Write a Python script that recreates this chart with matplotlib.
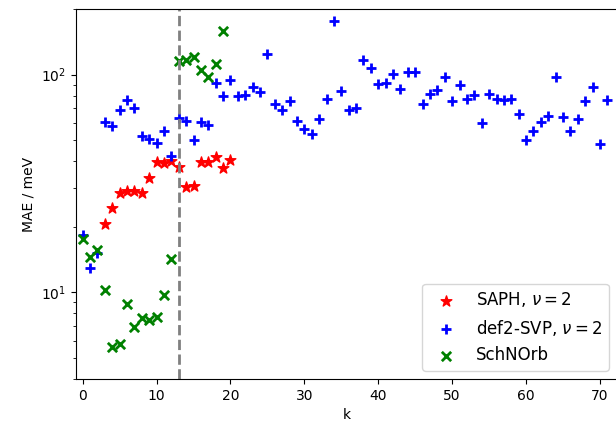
import numpy as np
import matplotlib
matplotlib.use("Agg")
import matplotlib.pyplot as plt

# ----------------
# DATA
# ----------------
saph_k = list(range(3, 21))
saph_mae = [20.7, 24.5, 28.5, 29.3, 29.3, 28.5, 33.4, 39.8, 39.4, 40.0,
            37.6, 30.6, 30.9, 39.6, 39.8, 41.8, 37.4, 40.6]

svp_k = list(range(0, 72))
svp_mae = [18.4, 12.9, 15.1, 60.3, 57.8, 68.5, 76.1, 70.2, 52.4, 50.5,
           48.4, 54.8, 42.4, 63.1, 60.9, 50.2, 60.3, 58.9, 91.5, 80.1,
           94.9, 80.1, 80.3, 87.8, 82.9, 124.5, 73.5, 69.0, 75.3, 60.9,
           56.4, 53.5, 62.5, 77.3, 176.0, 83.8, 68.5, 70.2, 116.4, 107.4,
           90.9, 91.5, 101.0, 85.9, 102.5, 102.5, 73.5, 81.5, 85.3, 97.6,
           75.3, 89.3, 77.5, 80.3, 59.9, 81.7, 77.5, 76.7, 77.5, 66.1,
           49.8, 54.8, 60.3, 64.3, 97.2, 63.6, 54.8, 62.7, 75.3, 87.8,
           48.1, 76.2]

schnorb_k = list(range(0, 20))
schnorb_mae = [17.5, 14.5, 15.6, 10.3, 5.64, 5.8, 8.87, 6.92, 7.64, 7.43,
               7.74, 9.75, 14.3, 116.0, 117.0, 120.7, 104.7, 97.2, 112.0, 158.0]

CUTOFF_K = 13

# ----------------
# PLOT
# ----------------
fig = plt.figure(figsize=(6.16, 4.28), dpi=100)
ax = fig.add_axes([76 / 616, (428 - 379) / 428, 541 / 616, 370 / 428])

ax.scatter(saph_k, saph_mae, marker="*", s=65, color="red", label=r"SAPH, $\nu=2$")
ax.scatter(svp_k, svp_mae, marker="+", s=50, linewidths=2, color="blue",
           label=r"def2-SVP, $\nu=2$")
ax.scatter(schnorb_k, schnorb_mae, marker="x", s=45, linewidths=2, color="green",
           label="SchNOrb")
ax.axvline(CUTOFF_K, color="gray", linestyle="--", linewidth=2)

ax.set_yscale("log")
ax.set_xlim(-0.9, 72.3)
ax.set_ylim(4, 200)
ax.set_xticks(range(0, 71, 10))
ax.set_xlabel("k")
ax.set_ylabel("MAE / meV")
ax.legend(loc="lower right", scatterpoints=1, fontsize=12)

fig.savefig("out.png", dpi=100)
